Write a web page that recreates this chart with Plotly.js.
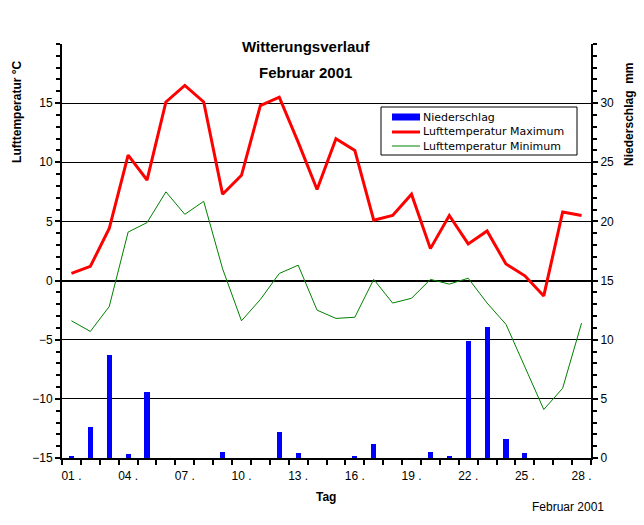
<!DOCTYPE html>
<html><head><meta charset="utf-8">
<script src="https://cdn.plot.ly/plotly-3.0.1.min.js"></script>
<style>body{margin:0;background:#fff}#chart{width:644px;height:525px}</style>
</head><body><div id="chart"></div>
<script>
const days = [1,2,3,4,5,6,7,8,9,10,11,12,13,14,15,16,17,18,19,20,21,22,23,24,25,26,27,28];
const tempMax = [0.6,1.2,4.4,10.6,8.5,15.1,16.5,15.1,7.3,8.9,14.8,15.5,11.7,7.7,12.0,11.0,5.1,5.5,7.3,2.7,5.5,3.1,4.2,1.4,0.4,-1.3,5.8,5.5];
const tempMin = [-3.4,-4.3,-2.2,4.1,4.9,7.5,5.6,6.7,1.0,-3.4,-1.6,0.6,1.3,-2.5,-3.2,-3.1,0.1,-1.9,-1.5,0.1,-0.3,0.2,-1.9,-3.7,-7.3,-10.9,-9.1,-3.6];
const precip = [0.2,2.6,8.7,0.3,5.6,0,0,0,0.5,0,0,2.2,0.4,0,0,0.2,1.2,0,0,0.5,0.2,9.9,11.1,1.6,0.4,0,0,0];
const xTickVals = [1,4,7,10,13,16,19,22,25,28];
const xTickText = ["01 .","04 .","07 .","10 .","13 .","16 .","19 .","22 .","25 .","28 ."];
const tempTicks = [-15,-10,-5,0,5,10,15];
const precipTicks = [0,5,10,15,20,25,30];
const legendNames = ["Niederschlag","Lufttemperatur Maximum","Lufttemperatur Minimum"];
const seriesColors = ["#0000ff","#ff0000","#008000"];

const fam = "Liberation Sans, Arial, sans-serif";
const font = {family:fam, size:12, color:"#000"};
const traces = [
  {type:"bar", x:days, y:precip, yaxis:"y2", name:legendNames[0], marker:{color:seriesColors[0], line:{width:0}}, width:0.27},
  {type:"scatter", mode:"lines", x:days, y:tempMax, name:legendNames[1], line:{color:seriesColors[1], width:3}},
  {type:"scatter", mode:"lines", x:days, y:tempMin, name:legendNames[2], line:{color:seriesColors[2], width:1}}
];

// legend box drawn in paper coordinates (pixel -> paper helpers)
const PL=62, PR=591, PT=44, PB=458;
const px = v => (v-PL)/(PR-PL);
const py = v => (PB-v)/(PB-PT);
const rowY = [117,132,146];
const symW = [7,3,1];
const shapes = [
  {type:"rect", xref:"paper", yref:"paper", x0:px(381), x1:px(577), y0:py(155), y1:py(107), line:{color:"#000", width:1}, fillcolor:"#fff", layer:"above"}
];
const annots = [];
legendNames.forEach((n,i)=>{
  shapes.push({type:"line", xref:"paper", yref:"paper", x0:px(392), x1:px(420), y0:py(rowY[i]), y1:py(rowY[i]), line:{color:seriesColors[i], width:symW[i]}, layer:"above"});
  annots.push({text:n, xref:"paper", yref:"paper", x:px(421), y:py(rowY[i]), xanchor:"left", yanchor:"middle", showarrow:false,
               font:{family:"DejaVu Sans, sans-serif", size:11, color:"#000"}});
});

const layout = {
  width:644, height:525,
  margin:{l:62, r:53, t:44, b:67},
  paper_bgcolor:"#fff", plot_bgcolor:"#fff",
  font:font,
  showlegend:false,
  xaxis:{range:[0.5,28.5], tickmode:"array", tickvals:xTickVals, ticktext:xTickText, ticks:"", showgrid:false,
         zeroline:false, showline:true, linecolor:"#000", linewidth:2, ticklabelstandoff:6,
         minor:{tick0:0.5, dtick:1, ticks:"outside", ticklen:5, tickwidth:2, tickcolor:"#000", showgrid:false},
         tickfont:font},
  yaxis:{range:[-15,20], tickmode:"array", tickvals:tempTicks, ticks:"outside", ticklen:5, tickwidth:2, tickcolor:"#000",
         showgrid:true, gridcolor:"#000", gridwidth:1, zeroline:true, zerolinecolor:"#000", zerolinewidth:2,
         showline:true, linecolor:"#000", linewidth:2, tickfont:font,
         minor:{tick0:0, dtick:1, ticks:"outside", ticklen:4, tickwidth:2, tickcolor:"#000", showgrid:false}},
  yaxis2:{range:[0,35], overlaying:"y", side:"right", tickmode:"array", tickvals:precipTicks, ticks:"outside", ticklen:5, tickwidth:2,
          tickcolor:"#000", showgrid:false, zeroline:false, showline:true, linecolor:"#000", linewidth:2, tickfont:font,
          minor:{tick0:0, dtick:1, ticks:"outside", ticklen:4, tickwidth:2, tickcolor:"#000", showgrid:false}},
  bargap:0,
  shapes:shapes,
  annotations:[
    {text:"<b>Witterungsverlauf</b>", xref:"paper", yref:"paper", x:0.461, y:0.993, xanchor:"center", yanchor:"middle", showarrow:false, font:{family:fam, size:15, color:"#000"}},
    {text:"<b>Februar 2001</b>", xref:"paper", yref:"paper", x:0.461, y:0.932, xanchor:"center", yanchor:"middle", showarrow:false, font:{family:fam, size:15, color:"#000"}},
    {text:"<b>Lufttemperatur °C</b>", xref:"paper", yref:"paper", x:-0.085, y:0.836, xanchor:"center", yanchor:"middle", textangle:-90, showarrow:false, font:{family:fam, size:12, color:"#000"}},
    {text:"<b>Niederschlag  mm</b>", xref:"paper", yref:"paper", x:1.072, y:0.829, xanchor:"center", yanchor:"middle", textangle:-90, showarrow:false, font:{family:fam, size:12, color:"#000"}},
    {text:"<b>Tag</b>", xref:"paper", yref:"paper", x:0.499, y:-0.094, xanchor:"center", yanchor:"middle", showarrow:false, font:{family:fam, size:12, color:"#000"}},
    {text:"Februar 2001", xref:"paper", yref:"paper", x:1.028, y:-0.118, xanchor:"right", yanchor:"middle", showarrow:false, font:{family:fam, size:12, color:"#000"}}
  ].concat(annots)
};
Plotly.newPlot("chart", traces, layout, {staticPlot:true, displayModeBar:false});
</script></body></html>
